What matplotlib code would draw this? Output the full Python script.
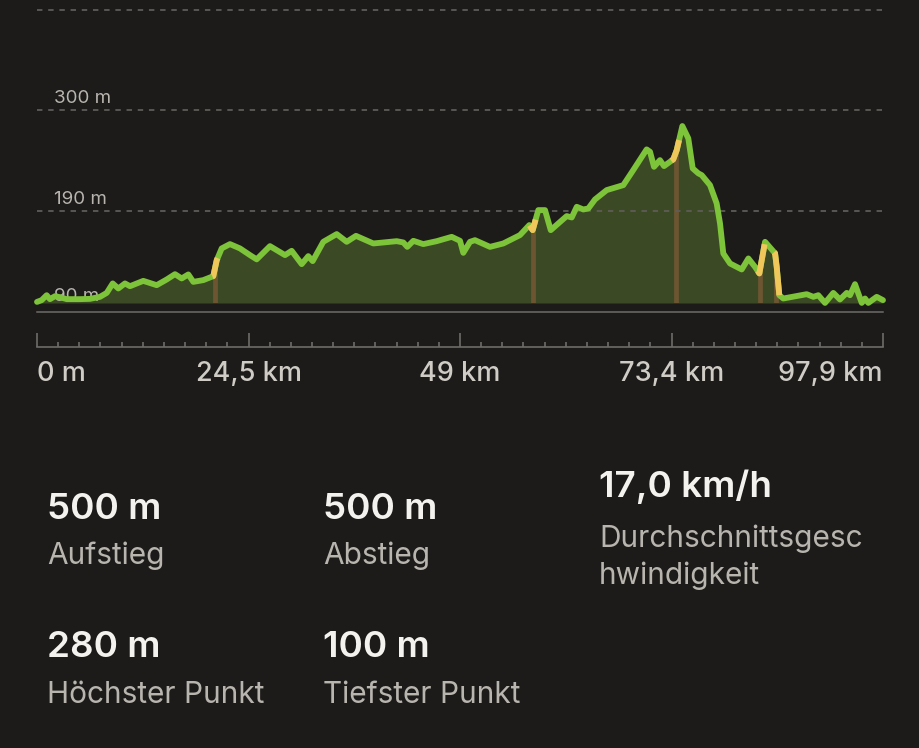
import numpy as np
import matplotlib
matplotlib.use("Agg")
import matplotlib.pyplot as plt
from matplotlib.lines import Line2D

# ---------------- data ----------------
dist_km = [0.0, 0.54, 1.12, 1.50, 2.08, 2.66, 3.44, 4.98, 6.13, 7.29, 8.07, 8.76, 9.41, 10.18,
           10.76, 12.30, 13.85, 15.01, 15.97, 16.74, 17.51, 18.09, 19.24, 20.40, 20.80, 21.37,
           22.33, 23.49, 24.65, 25.42, 26.96, 28.70, 29.47, 30.63, 31.39, 31.90, 33.13, 34.68,
           35.84, 36.91, 38.92, 41.63, 42.39, 42.85, 43.55, 44.70, 46.25, 47.99, 48.95, 49.33,
           50.11, 50.68, 52.42, 53.96, 55.89, 56.97, 57.36, 58.01, 58.79, 59.45, 60.33, 61.30,
           61.88, 62.46, 63.22, 63.80, 64.57, 65.93, 67.85, 69.00, 70.55, 70.94, 71.40, 72.09,
           72.56, 73.63, 74.03, 74.68, 75.37, 75.88, 76.53, 76.92, 77.88, 78.65, 79.04, 79.42,
           80.20, 81.55, 82.32, 83.09, 83.59, 84.25, 85.41, 85.60, 85.90, 86.36, 89.07, 89.84,
           90.41, 91.19, 92.15, 92.92, 93.70, 94.08, 94.66, 95.44, 95.82, 96.20, 97.17, 97.9]
elev_m = [91.2, 93.1, 98.5, 94.2, 97.4, 96.3, 94.2, 94.2, 94.5, 96.7, 101.0, 111.3, 105.8, 111.3,
          108.3, 114.1, 109.4, 115.6, 121.4, 116.7, 121.1, 113.0, 114.9, 119.2, 136.6, 149.4,
          154.1, 149.4, 142.1, 137.5, 151.9, 142.1, 146.8, 132.3, 141.0, 135.6, 156.6, 165.0,
          156.6, 163.1, 154.8, 157.3, 155.9, 151.1, 157.7, 154.1, 157.3, 162.0, 157.7, 144.6,
          156.6, 158.4, 151.1, 154.8, 163.9, 174.8, 169.3, 191.1, 191.1, 169.3, 176.6, 184.6,
          183.1, 194.7, 191.8, 192.9, 202.7, 212.9, 218.3, 234.7, 257.2, 254.6, 238.2, 245.5,
          239.0, 246.3, 256.4, 282.6, 269.2, 236.5, 231.1, 229.2, 218.3, 198.4, 176.6, 143.9,
          133.0, 126.5, 138.5, 129.3, 122.2, 156.6, 144.1, 129.3, 98.5, 94.9, 99.6, 96.7,
          98.5, 90.1, 101.0, 93.8, 101.0, 98.5, 110.5, 90.1, 94.9, 90.1, 96.7, 93.1]

# steep sections (km ranges) highlighted in yellow
steep_ranges = [(20.3, 20.9), (57.0, 57.7), (73.4, 74.3), (83.4, 84.2), (85.3, 85.9)]
# marker positions (km)
marker_km = [20.6, 57.4, 73.9, 83.7, 85.5]

y_grid = [190, 300]
y_labels = ["90 m", "190 m", "300 m"]
y_label_vals = [90, 190, 300]
x_tick_vals = [0, 24.475, 48.95, 73.425, 97.9]
x_tick_labels = ["0 m", "24,5 km", "49 km", "73,4 km", "97,9 km"]

stats_values = ["500 m", "500 m", "17,0 km/h", "280 m", "100 m"]
stats_labels = ["Aufstieg", "Abstieg", "Durchschnittsgesc\nhwindigkeit", "Höchster Punkt", "Tiefster Punkt"]

# ---------------- style ----------------
BG = "#1c1b1a"
GREEN = "#7ec43a"
FILL = "#3b4924"
YELLOW = "#f0c75a"
BROWN = "#6e5532"
GRID = "#5e5c59"
WHITE = "#f4f2ee"
LGRAY = "#b8b4ae"
AXGRAY = "#6e6c69"
FONT = ["Inter", "DejaVu Sans"]
plt.rcParams["font.family"] = FONT

W, H = 920, 748
fig = plt.figure(figsize=(W / 100, H / 100), dpi=100, facecolor=BG)

def fx(px):
    return px / W

def fy(py):
    return 1 - py / H

# ---------------- elevation axes ----------------
ax_left, ax_right, ax_top, ax_bot = 37, 883, 10, 303
ax = fig.add_axes([fx(ax_left), fy(ax_bot), (ax_right - ax_left) / W, (ax_bot - ax_top) / H])
ax.set_facecolor(BG)
ymin = 90
ymax = 300 + 100 * 110 / 101
ax.set_xlim(0, 97.9)
ax.set_ylim(ymin, ymax)
for s in ax.spines.values():
    s.set_visible(False)
ax.set_xticks([])
ax.set_yticks([])

x = np.array(dist_km)
y = np.array(elev_m)

ax.fill_between(x, y, ymin, color=FILL, lw=0, zorder=1)

# brown markers
for mk in marker_km:
    top = np.interp(mk, x, y)
    ax.plot([mk, mk], [ymin, top], color=BROWN, lw=3.4, solid_capstyle="butt", zorder=2)

# gridlines
for g in y_grid:
    ax.axhline(g, color=GRID, lw=1.3, ls=(0, (3, 3.2)), zorder=3)
ax.plot([0, 1], [1, 1], transform=ax.transAxes, color=GRID, lw=1.3, ls=(0, (3, 3.2)),
        clip_on=False, zorder=3)

# y labels
for v, lab in zip(y_label_vals, y_labels):
    off = 7.5 if v > ymin else 2.5
    ax.text(1.97, v + off, lab, color=LGRAY, fontsize=13.5, ha="left", va="baseline",
            zorder=4, clip_on=True)

# profile line
ax.plot(x, y, color=GREEN, lw=4.2, solid_joinstyle="round", solid_capstyle="round",
        clip_on=False, zorder=5)
for a, b in steep_ranges:
    inner = (x > a) & (x < b)
    xs = np.concatenate([[a], x[inner], [b]])
    ys = np.interp(xs, x, y)
    ax.plot(xs, ys, color=YELLOW, lw=4.2, solid_capstyle="butt", solid_joinstyle="round",
            zorder=6)

# separator line
fig.add_artist(Line2D([fx(37), fx(883)], [fy(312.5), fy(312.5)], color=AXGRAY, lw=1.1))

# ---------------- distance axis ----------------
ax2 = fig.add_axes([fx(37), fy(347), (883 - 37) / W, 15 / H])
ax2.set_facecolor("none")
ax2.set_xlim(0, 97.9)
ax2.set_ylim(0, 1)
for k, s in ax2.spines.items():
    s.set_visible(k == "bottom")
ax2.spines["bottom"].set_color(AXGRAY)
ax2.spines["bottom"].set_linewidth(1.2)
ax2.set_yticks([])
ax2.set_xticks(x_tick_vals)
ax2.set_xticklabels(x_tick_labels, fontweight="medium")
ax2.set_xticks(np.linspace(0, 97.9, 41), minor=True)
ax2.tick_params(axis="x", which="major", direction="in", length=10, width=1.2, color=AXGRAY,
                labelcolor="#cfcbc5", labelsize=19.5, pad=10)
ax2.tick_params(axis="x", which="minor", direction="in", length=3.5, width=1.2, color=AXGRAY)
labs = ax2.get_xticklabels()
labs[0].set_ha("left")
labs[-1].set_ha("right")

# ---------------- stats ----------------
cols = [47, 323, 599, 47, 323]
val_base = [519, 519, 496.5, 657, 657]
lab_base = [564, 564, 547, 703, 703]
for cx, vb, lb, v, l in zip(cols, val_base, lab_base, stats_values, stats_labels):
    fig.text(fx(cx), fy(vb), v, color=WHITE, fontsize=26.5, fontweight="semibold",
             ha="left", va="baseline")
    lines = l.split("\n")
    for i, ln in enumerate(lines):
        fig.text(fx(cx), fy(lb + i * 37.5), ln, color=LGRAY, fontsize=21.5,
                 ha="left", va="baseline")

fig.savefig("out.png", dpi=100, facecolor=BG)
